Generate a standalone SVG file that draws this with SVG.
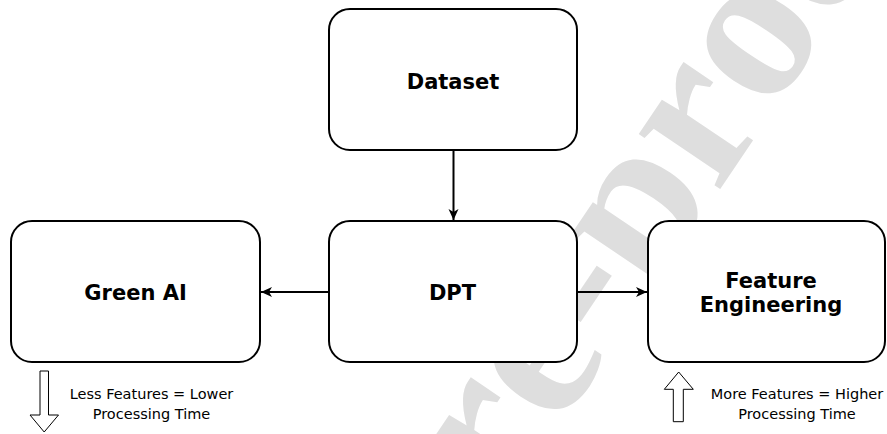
<svg xmlns="http://www.w3.org/2000/svg" width="887" height="434" viewBox="0 0 887 434">
  <style>
    .box { fill: #ffffff; stroke: #000000; stroke-width: 2; }
    .lbl { font-family: "DejaVu Sans", Verdana, sans-serif; font-weight: bold; font-size: 21px; fill: #000000; text-anchor: middle; }
    .note { font-family: "DejaVu Sans", Verdana, sans-serif; font-size: 14.5px; fill: #000000; text-anchor: middle; }
    .edge { fill: none; stroke: #000000; stroke-width: 2; }
    .hollow { fill: #ffffff; stroke: #000000; stroke-width: 1; }
    .wm { font-family: "Liberation Serif", "Times New Roman", serif; font-weight: bold; font-size: 214px; fill: #dedede; }
  </style>
  <defs>
    <marker id="arrow" markerUnits="userSpaceOnUse" markerWidth="12" markerHeight="12" viewBox="0 0 12 12" refX="11" refY="6" orient="auto">
      <path d="M0,1 L11,6 L0,11 L3,6 z" fill="#000000"/>
    </marker>
  </defs>
  <rect width="887" height="434" fill="#ffffff"/>
  <g id="watermark">
    <text class="wm" x="-511.1 -380.3 -285.3 -190.3 -119 0 95 202 309" y="0" transform="translate(717,193.8) rotate(-56)">Pre-proof</text>
  </g>
  <g id="connectors">
    <line class="edge" x1="453.5" y1="150" x2="453.5" y2="220" marker-end="url(#arrow)"/>
    <line class="edge" x1="329" y1="292" x2="261" y2="292" marker-end="url(#arrow)"/>
    <line class="edge" x1="577" y1="292" x2="647" y2="292" marker-end="url(#arrow)"/>
  </g>
  <g id="node-dataset">
    <rect class="box" x="329" y="9" width="248" height="141" rx="21"/>
    <text class="lbl" x="453" y="88.5">Dataset</text>
  </g>
  <g id="node-dpt">
    <rect class="box" x="329" y="221" width="248" height="141" rx="21"/>
    <text class="lbl" x="452.5" y="300">DPT</text>
  </g>
  <g id="node-green-ai">
    <rect class="box" x="11" y="221" width="249" height="141" rx="21"/>
    <text class="lbl" x="135.5" y="300">Green AI</text>
  </g>
  <g id="node-feature-engineering">
    <rect class="box" x="648" y="221" width="237" height="141" rx="21"/>
    <text class="lbl" x="771" y="287.5">Feature</text>
    <text class="lbl" x="771" y="311.5">Engineering</text>
  </g>
  <g id="note-less">
    <polygon class="hollow" points="40,371 48.5,371 48.5,415 58.5,415 44.2,432 30,415 40,415"/>
    <text class="note" x="151.5" y="398.5">Less Features = Lower</text>
    <text class="note" x="151.5" y="418.5">Processing Time</text>
  </g>
  <g id="note-more">
    <polygon class="hollow" points="678.7,372 693.3,389.3 683.3,389.3 683.3,421.7 673.3,421.7 673.3,389.3 664.3,389.3"/>
    <text class="note" x="797" y="398.5">More Features = Higher</text>
    <text class="note" x="797" y="418.5">Processing Time</text>
  </g>
</svg>
